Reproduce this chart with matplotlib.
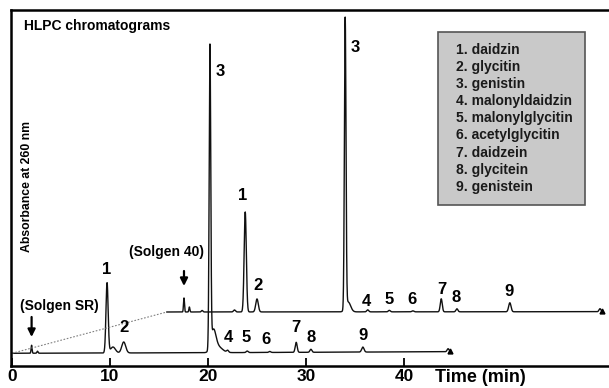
import numpy as np
import matplotlib
matplotlib.use("Agg")
import matplotlib.pyplot as plt
from matplotlib.patches import Rectangle

plt.rcParams['font.family'] = ['Liberation Sans', 'DejaVu Sans']
plt.rcParams['font.weight'] = 'bold'

# Solgen SR (traço de baixo): tabela de picos (min, altura, largura)
sr_rt = [2.0, 2.6, 9.7, 10.3, 11.4, 20.2, 20.55, 21.0, 22.0, 24.0, 26.3, 29.0, 30.5, 35.8, 44.5]
sr_height = [8, 2, 70, 6, 11, 300, 20, 6, 2, 1.5, 1, 10, 3, 5, 3]
sr_width = [0.05, 0.06, 0.11, 0.25, 0.2, 0.08, 0.25, 0.45, 0.1, 0.1, 0.1, 0.1, 0.1, 0.12, 0.1]
sr_base_t = [0, 20, 44.7]
sr_base_y = [12.7, 13.3, 14.3]
sr_end = 44.7

# Solgen 40 (traço de cima)
s40_rt = [17.55, 18.1, 19.4, 22.7, 23.8, 25.0, 34.0, 34.3, 36.3, 38.5, 40.9, 43.8, 45.4, 50.8, 60.0]
s40_height = [14, 5, 1.5, 2, 100, 13, 290, 10, 2, 1.5, 1, 13, 3, 9, 3]
s40_width = [0.05, 0.05, 0.08, 0.1, 0.11, 0.13, 0.08, 0.25, 0.1, 0.1, 0.1, 0.1, 0.1, 0.12, 0.1]
s40_base_t = [15.8, 60.2]
s40_base_y = [54, 54.3]
s40_start = 15.8
s40_end = 60.2

compounds = ["daidzin", "glycitin", "genistin", "malonyldaidzin", "malonylglycitin",
             "acetylglycitin", "daidzein", "glycitein", "genistein"]

# rótulos dos picos (posição em min, absorbância)
sr_labels = [("1", 9.69, 97), ("2", 11.43, 38), ("3", 21.22, 294), ("4", 22.07, 29),
             ("5", 23.88, 29), ("6", 25.89, 27), ("7", 28.98, 38), ("8", 30.51, 29),
             ("9", 35.79, 31)]
s40_labels = [("1", 23.57, 171), ("2", 25.07, 81), ("3", 35.0, 319), ("4", 36.19, 65),
              ("5", 38.5, 66), ("6", 40.85, 67), ("7", 43.85, 77), ("8", 45.36, 69),
              ("9", 50.74, 74)]

xticks = [0, 10, 20, 30, 40]


def build_trace(t, rt, height, width, base_t, base_y):
    y = np.interp(t, base_t, base_y)
    for r, h, w in zip(rt, height, width):
        y = y + h * np.exp(-(t - r) ** 2 / (2 * w ** 2))
    return y


t_sr = np.linspace(0, sr_end, 5000)
y_sr = build_trace(t_sr, sr_rt, sr_height, sr_width, sr_base_t, sr_base_y)
t_40 = np.linspace(s40_start, s40_end, 5000)
y_40 = build_trace(t_40, s40_rt, s40_height, s40_width, s40_base_t, s40_base_y)

fig = plt.figure(figsize=(6.09, 3.88), dpi=100)
ax = fig.add_axes([11 / 609, 22 / 388, 598 / 609, 356 / 388])

ax.plot(t_sr, y_sr, color="#111111", lw=1.0)
ax.plot(t_40, y_40, color="#111111", lw=1.0)
ax.plot([t_sr[-1]], [y_sr[-1]], marker="^", color="black", ms=3.5)
ax.plot([t_40[-1]], [y_40[-1]], marker="^", color="black", ms=3.5)

# linha pontilhada ligando o início dos dois traços
ax.plot([t_sr[0], t_40[0]], [y_sr[0], y_40[0]], color="gray", lw=0.8, ls=(0, (1.5, 1.5)))

for txt, x, y in sr_labels + s40_labels:
    ax.text(x, y, txt, fontsize=12, fontweight="bold", ha="center", va="center")

# setas das amostras
seta = dict(arrowstyle="-|>", color="black", lw=1.6, mutation_scale=11, shrinkA=0, shrinkB=0)
ax.annotate("", xy=(2.0, 29), xytext=(2.0, 49), arrowprops=seta)
ax.text(4.8, 60, "(Solgen SR)", fontsize=10, fontweight="bold", ha="center", va="center")
ax.annotate("", xy=(17.55, 80), xytext=(17.55, 95), arrowprops=seta)
ax.text(15.77, 114, "(Solgen 40)", fontsize=10, fontweight="bold", ha="center", va="center")

ax.text(1.22, 340, "HLPC chromatograms", fontsize=10, fontweight="bold", ha="left", va="center")
ax.text(1.53, 180, "Absorbance at 260 nm", fontsize=8.8, fontweight="bold",
        rotation=90, ha="center", va="center")

# caixa da legenda
ax.add_patch(Rectangle((43.47, 161), 15.0, 173, facecolor="#c9c9c9", edgecolor="#555555", lw=1.2))
for i, name in enumerate(compounds):
    ax.text(45.3, 316 - 17.1 * i, f"{i + 1}. {name}", fontsize=10, fontweight="bold",
            ha="left", va="center", color="#1a1a1a")

ax.text(43.16, -12, "Time (min)", fontsize=13, fontweight="bold", ha="left", va="center",
        clip_on=False)

ax.set_xlim((11 - 12) / 9.8, (609 - 12) / 9.8)
ax.set_ylim(0, 356)
ax.set_xticks(xticks)
ax.set_xticklabels([str(v) for v in xticks], fontsize=12.5, fontweight="bold")
ax.set_yticks([])
ax.tick_params(axis="x", direction="in", length=6, width=1.3, pad=2)
ax.spines["right"].set_visible(False)
for s in ["left", "top", "bottom"]:
    ax.spines[s].set_linewidth(1.8)

fig.savefig("out.png", dpi=100)
